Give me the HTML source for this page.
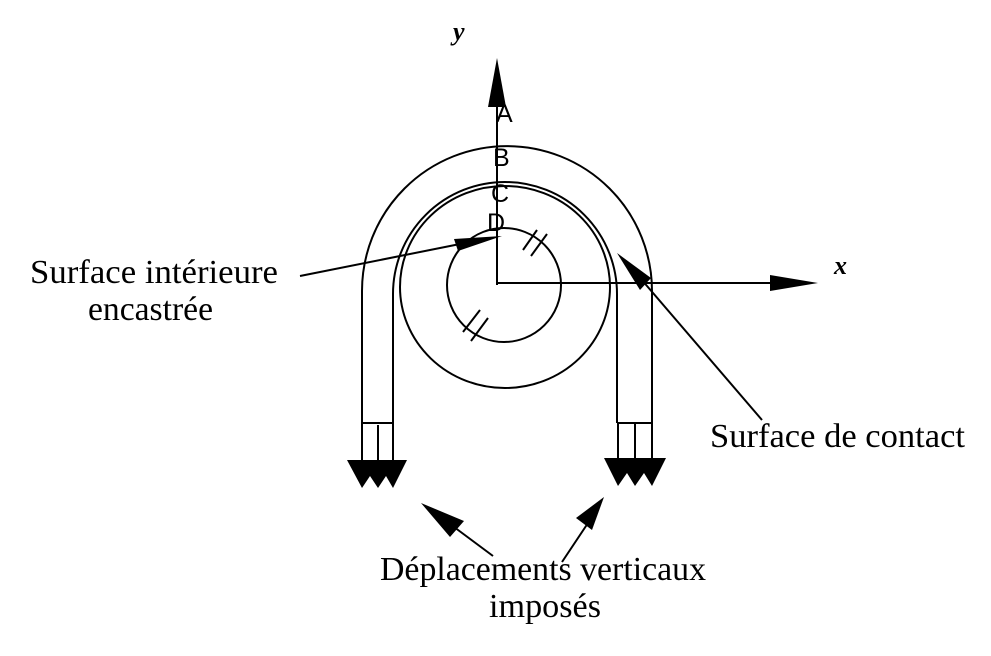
<!DOCTYPE html>
<html><head><meta charset="utf-8"><style>
html,body{margin:0;padding:0;background:#fff}
svg{display:block}
.s{font-family:"Liberation Serif",serif;font-size:34px;fill:#000}
.a{font-family:"Liberation Sans",sans-serif;font-size:25px;fill:#000}
</style></head><body>
<svg width="991" height="656" viewBox="0 0 991 656" xmlns="http://www.w3.org/2000/svg">
<g fill="none" stroke="#000" stroke-width="2">
<path d="M362 423 L362 291 A145 145 0 0 1 652 291 L652 423"/>
<path d="M393 423 L393 294 A112 112 0 0 1 617 294 L617 423"/>
<line x1="362" y1="423" x2="393" y2="423"/>
<line x1="617" y1="423" x2="652" y2="423"/>
<ellipse cx="505" cy="287" rx="105" ry="101"/>
<circle cx="504" cy="285" r="57"/>
<line x1="497" y1="285" x2="497" y2="100"/>
<line x1="497" y1="283" x2="780" y2="283"/>
<line x1="523" y1="250" x2="537" y2="230"/>
<line x1="531" y1="256" x2="547" y2="234"/>
<line x1="463" y1="332" x2="480" y2="310"/>
<line x1="471" y1="341" x2="488" y2="318"/>
<line x1="362" y1="423" x2="362" y2="462"/>
<line x1="378" y1="425" x2="378" y2="462"/>
<line x1="393" y1="423" x2="393" y2="462"/>
<line x1="618" y1="423" x2="618" y2="460"/>
<line x1="635" y1="423" x2="635" y2="460"/>
<line x1="652" y1="423" x2="652" y2="460"/>
<line x1="300" y1="276" x2="470" y2="242"/>
<line x1="762" y1="420" x2="635" y2="272"/>
<line x1="493" y1="556" x2="450" y2="524"/>
<line x1="562" y1="562" x2="588" y2="523"/>
</g>
<g fill="#000">
<polygon points="497,58 488,107 506,107"/>
<polygon points="818,283 770,275 770,291"/>
<polygon points="347,460 407,460 393,488 386,476 378,488 370,476 362,488"/>
<polygon points="604,458 666,458 652,486 644,473 635,486 627,473 618,486"/>
<polygon points="502,236 454,239 458,251"/>
<polygon points="617,253 640,290 651,278"/>
<polygon points="421,503 450,537 464,521"/>
<polygon points="604,497 576,518 592,530"/>
</g>
<text x="453" y="40" class="s" style="font-style:italic;font-weight:bold;font-size:26px">y</text>
<text x="834" y="274" class="s" style="font-style:italic;font-weight:bold;font-size:26px">x</text>
<text x="496" y="122" class="a">A</text>
<text x="493" y="166" class="a">B</text>
<text x="491" y="202" class="a">C</text>
<text x="487" y="231" class="a">D</text>
<text x="30" y="283" class="s" textLength="248" lengthAdjust="spacingAndGlyphs">Surface intérieure</text>
<text x="88" y="320" class="s" textLength="125" lengthAdjust="spacingAndGlyphs">encastrée</text>
<text x="710" y="447" class="s" textLength="255" lengthAdjust="spacingAndGlyphs">Surface de contact</text>
<text x="380" y="580" class="s" textLength="326" lengthAdjust="spacingAndGlyphs">Déplacements verticaux</text>
<text x="489" y="617" class="s" textLength="112" lengthAdjust="spacingAndGlyphs">imposés</text>
</svg>
</body></html>
